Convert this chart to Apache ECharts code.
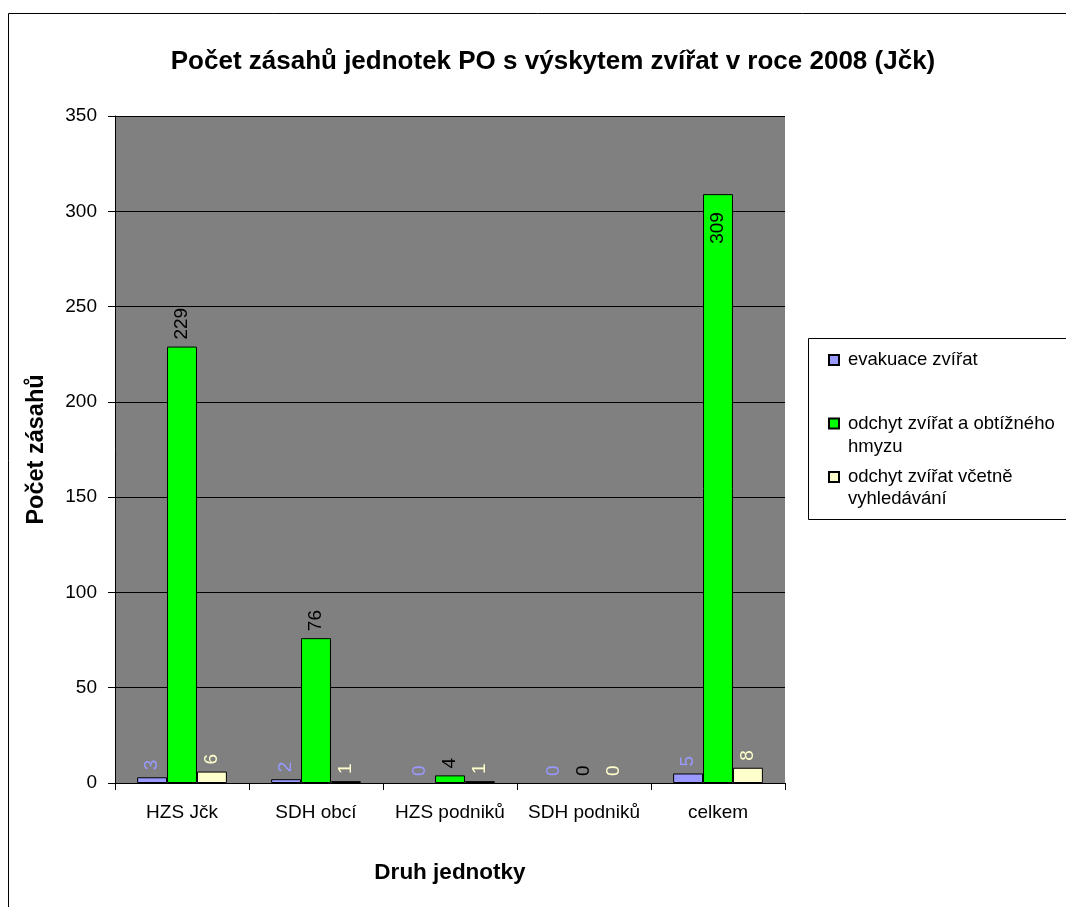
<!DOCTYPE html>
<html>
<head>
<meta charset="utf-8">
<script src="https://cdn.jsdelivr.net/npm/echarts@6/dist/echarts.min.js"></script>
<style>
  html, body { margin: 0; padding: 0; background: #fff; }
  #chart { width: 1066px; height: 907px; }
</style>
</head>
<body>
<div id="chart"></div>
<script>
const categories = ['HZS Jčk', 'SDH obcí', 'HZS podniků', 'SDH podniků', 'celkem'];
const evakuace = [3, 2, 0, 0, 5];
const odchytHmyz = [229, 76, 4, 0, 309];
const odchytVyhledavani = [6, 1, 1, 0, 8];
const seriesNames = ['evakuace zvířat', 'odchyt zvířat a obtížného hmyzu', 'odchyt zvířat včetně vyhledávání'];
const legendLines = [['evakuace zvířat'], ['odchyt zvířat a obtížného', 'hmyzu'], ['odchyt zvířat včetně', 'vyhledávání']];
const yTicks = [0, 50, 100, 150, 200, 250, 300, 350];

const font = 'Liberation Sans, Arial, sans-serif';
const yMax = yTicks[yTicks.length - 1];

function makeSeries(name, values, color, labelColor) {
  return {
    name: name,
    type: 'bar',
    barGap: '0%',
    barCategoryGap: '33%',
    itemStyle: { color: color, borderColor: '#000', borderWidth: 1 },
    data: values.map(v => {
      // a label that would run out of the plot goes inside the bar (like 309)
      const inside = v > yMax * 0.85;
      return {
        value: v,
        itemStyle: v === 0 ? { borderWidth: 0 } : undefined,
        label: inside
          ? { position: 'insideTop', align: 'right', distance: 18 }
          : { position: 'top', align: 'left', distance: 7 }
      };
    }),
    label: {
      show: true,
      rotate: 90,
      verticalAlign: 'middle',
      color: labelColor,
      fontFamily: font,
      fontSize: 19
    }
  };
}

// one legend per series so each entry sits where it does in the picture;
// the icon lines up with the first text line
const legendTops = [349, 389, 444];
const legendLineHeights = [22, 23, 22];
const legends = seriesNames.map((name, i) => ({
  orient: 'vertical',
  left: 828,
  top: legendTops[i],
  padding: 0,
  icon: 'rect',
  itemWidth: 10,
  itemHeight: 10,
  data: [name],
  formatter: () => (legendLines[i].length > 1 ? '\n' : '') + legendLines[i].join('\n'),
  textStyle: {
    fontFamily: font, fontSize: 18.5, color: '#000',
    lineHeight: legendLineHeights[i], padding: [0, 0, 0, 4]
  }
}));

const chart = echarts.init(document.getElementById('chart'), null, { renderer: 'canvas' });
chart.setOption({
  animation: false,
  backgroundColor: '#fff',
  title: {
    text: 'Počet zásahů jednotek PO s výskytem zvířat v roce 2008 (Jčk)',
    left: 548,
    textAlign: 'center',
    top: 44,
    textStyle: { fontFamily: font, fontSize: 26, fontWeight: 'bold', color: '#000' }
  },
  graphic: [
    {
      type: 'rect',
      shape: { x: 8.5, y: 13.5, width: 1100, height: 1000 },
      style: { fill: null, stroke: '#000', lineWidth: 1 },
      silent: true
    },
    {
      type: 'rect',
      shape: { x: 808.5, y: 338.5, width: 300, height: 181 },
      style: { fill: null, stroke: '#000', lineWidth: 1 },
      silent: true
    }
  ],
  legend: legends,
  grid: { left: 115, right: 281, top: 116, bottom: 124, backgroundColor: '#808080', show: true, borderWidth: 0 },
  xAxis: {
    type: 'category',
    data: categories,
    name: 'Druh jednotky',
    nameLocation: 'middle',
    nameGap: 78,
    nameTextStyle: { fontFamily: font, fontSize: 22.5, fontWeight: 'bold', color: '#000' },
    axisLine: { lineStyle: { color: '#000' } },
    axisTick: { show: true, length: 7, lineStyle: { color: '#000' } },
    axisLabel: { interval: 0, fontFamily: font, fontSize: 19, color: '#000', margin: 20 }
  },
  yAxis: {
    type: 'value',
    min: yTicks[0],
    max: yMax,
    interval: 50,
    name: 'Počet zásahů',
    nameLocation: 'middle',
    nameGap: 66,
    nameTextStyle: { fontFamily: font, fontSize: 23.5, fontWeight: 'bold', color: '#000' },
    axisLine: { show: true, lineStyle: { color: '#000' } },
    axisTick: { show: true, length: 7, lineStyle: { color: '#000' } },
    axisLabel: { fontFamily: font, fontSize: 19, color: '#000', margin: 18 },
    splitLine: { show: true, lineStyle: { color: '#000', width: 1 } }
  },
  series: [
    makeSeries(seriesNames[0], evakuace, '#9999ff', '#9999ff'),
    makeSeries(seriesNames[1], odchytHmyz, '#00ff00', '#000'),
    makeSeries(seriesNames[2], odchytVyhledavani, '#ffffcc', '#ffffcc')
  ]
});
</script>
</body>
</html>
